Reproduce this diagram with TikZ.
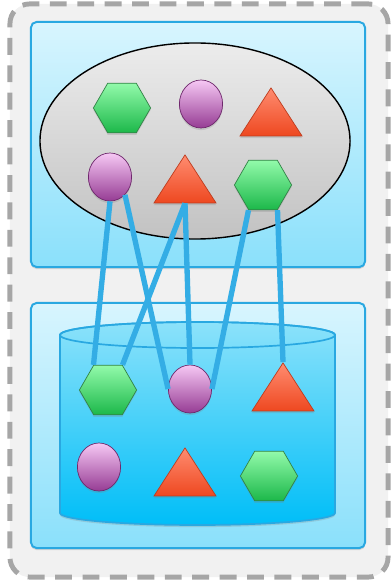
\documentclass[tikz,border=0pt]{standalone}
\usepackage{tikz}
\usetikzlibrary{shapes.geometric,shadows}
\definecolor{outerbg}{RGB}{241,241,241}
\definecolor{dashgray}{RGB}{166,166,166}
\definecolor{panelline}{RGB}{41,168,225}
\definecolor{paneltop}{RGB}{216,245,254}
\definecolor{panelbot}{RGB}{138,224,251}
\definecolor{ovaltop}{RGB}{236,236,236}
\definecolor{ovalbot}{RGB}{194,194,194}
\definecolor{tanktop}{RGB}{140,226,250}
\definecolor{tankbot}{RGB}{0,190,248}
\definecolor{linkblue}{RGB}{52,173,229}
\definecolor{hextop}{RGB}{146,250,170}
\definecolor{hexbot}{RGB}{28,184,74}
\definecolor{hexline}{RGB}{50,130,70}
\definecolor{balltop}{RGB}{246,200,244}
\definecolor{ballbot}{RGB}{150,60,148}
\definecolor{ballline}{RGB}{110,40,108}
\definecolor{tritop}{RGB}{255,140,112}
\definecolor{tribot}{RGB}{238,72,32}
\definecolor{triline}{RGB}{190,60,30}
\begin{document}
\begin{tikzpicture}[x=0.025cm,y=-0.025cm,
    softshadow/.style={drop shadow={opacity=.25,shadow xshift=0pt,shadow yshift=-1.5pt}},
    frame/.style={draw=dashgray,line width=3.5pt,dash pattern=on 12pt off 7.5pt,fill=outerbg,rounded corners=14pt,minimum width=9.45cm,minimum height=14.325cm},
    panel/.style={draw=panelline,line width=1.4pt,rounded corners=4pt,top color=paneltop,bottom color=panelbot,minimum width=8.35cm,minimum height=6.125cm,softshadow},
    hexa/.style={regular polygon,regular polygon sides=6,minimum size=1.43cm,inner sep=0pt,draw=hexline,line width=.5pt,top color=hextop,bottom color=hexbot,softshadow},
    ball/.style={ellipse,minimum width=1.08cm,minimum height=1.2cm,inner sep=0pt,draw=ballline,line width=.5pt,top color=balltop,bottom color=ballbot,softshadow},
    tri/.style={isosceles triangle,isosceles triangle stretches,shape border rotate=90,minimum width=1.55cm,minimum height=1.2cm,inner sep=0pt,draw=triline,line width=.5pt,top color=tritop,bottom color=tribot,softshadow,anchor=apex},
    link/.style={draw=linkblue,line width=3.8pt}]
  \useasboundingbox (0,0) rectangle (391,583);
  \node[frame] (frame) at (199,290.5) {};
  \node[panel] (upper) at (198,144.5) {};
  \node[panel] (lower) at (198,425.5) {};
  \node[ellipse,draw,line width=1pt,top color=ovaltop,bottom color=ovalbot,minimum width=7.75cm,minimum height=4.9cm,inner sep=0pt] (oval) at (195,141) {};
  \path[draw=panelline,line width=1.2pt,top color=tanktop,bottom color=tankbot,softshadow] (60,335) -- (60,513) arc[start angle=180,end angle=0,x radius=137.5,y radius=12] -- (335,335) arc[start angle=0,end angle=-180,x radius=137.5,y radius=13] -- cycle;
  \draw[panelline,line width=1.2pt] (197.5,335) ellipse[x radius=137.5,y radius=13];
  \node[hexa] (h1) at (122,108) {};
  \node[ball] (b1) at (201,104) {};
  \node[tri] (t1) at (271,87) {};
  \node[ball] (b2) at (110,177) {};
  \node[tri] (t2) at (185,154) {};
  \node[hexa] (h2) at (263,185) {};
  \node[hexa] (h3) at (108,390) {};
  \node[ball] (b3) at (190,389) {};
  \node[tri] (t3) at (283,362) {};
  \node[ball] (b4) at (99,467) {};
  \node[tri] (t4) at (185,447) {};
  \node[hexa] (h4) at (269,476) {};
  \draw[link] (b2.south) -- (h3.120);
  \draw[link] (b2.-50) -- (b3.west);
  \draw[link] (t2.lower side) -- (h3.60);
  \draw[link] (t2.lower side) -- (b3.north);
  \draw[link] (h2.240) -- (b3.east);
  \draw[link] (h2.300) -- (t3.apex);
\end{tikzpicture}
\end{document}
